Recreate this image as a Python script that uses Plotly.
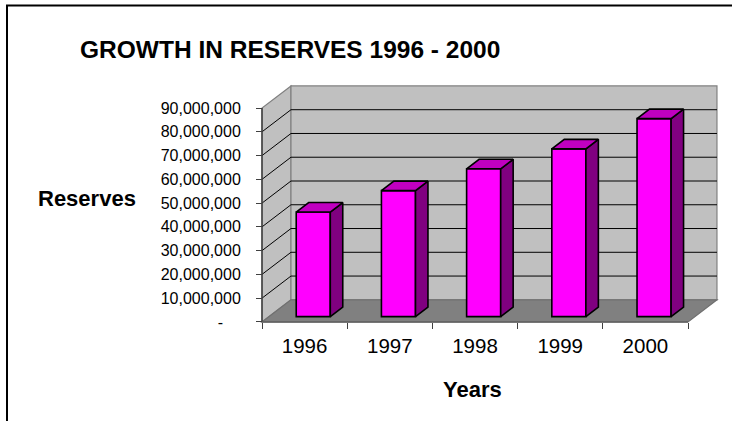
import plotly.graph_objects as go

# ---- data ----
years = ["1996", "1997", "1998", "1999", "2000"]
reserves = [44.0e6, 53.0e6, 62.2e6, 70.6e6, 83.3e6]
y_tick_values = [0, 10e6, 20e6, 30e6, 40e6, 50e6, 60e6, 70e6, 80e6, 90e6]
y_tick_labels = ["-\u00a0\u00a0\u00a0\u00a0", "10,000,000", "20,000,000", "30,000,000",
                 "40,000,000", "50,000,000", "60,000,000", "70,000,000",
                 "80,000,000", "90,000,000"]

# ---- page / plot-area geometry ----
W, H = 732, 421
M = dict(l=254, r=6, t=80, b=91)
PLOT_W = W - M["l"] - M["r"]
PLOT_H = H - M["t"] - M["b"]
X_RANGE = [-0.094, 5.446]
Y_RANGE = [-3.4e6, 101.8e6]

# oblique depth of the 3-D box (in axis units)
DEPTH_X = 0.34
DEPTH_Y = 9.3e6
WALL_TOP = 90e6

# column footprint inside a category slot
BAR_LEFT, BAR_WIDTH = 0.32, 0.40
BAR_FRONT, BAR_BACK = 0.24, 0.67   # depth fractions

FONT = "Liberation Sans, Arial, sans-serif"
n = len(years)


def px_x(px):
    return (px - M["l"]) / PLOT_W


def px_y(py):
    return (H - M["b"] - py) / PLOT_H


def path(points):
    return "M " + " L ".join(f"{x},{y}" for x, y in points) + " Z"


shapes = []
# side wall
shapes.append(dict(type="path", xref="x", yref="y", layer="below",
                   path=path([(0, 0), (DEPTH_X, DEPTH_Y), (DEPTH_X, WALL_TOP + DEPTH_Y), (0, WALL_TOP)]),
                   fillcolor="#C0C0C0", line=dict(color="#808080", width=1.2)))
# back wall
shapes.append(dict(type="path", xref="x", yref="y", layer="below",
                   path=path([(DEPTH_X, DEPTH_Y), (n + DEPTH_X, DEPTH_Y),
                              (n + DEPTH_X, WALL_TOP + DEPTH_Y), (DEPTH_X, WALL_TOP + DEPTH_Y)]),
                   fillcolor="#C0C0C0", line=dict(color="#808080", width=1.2)))
# gridlines on both walls
for v in y_tick_values[1:-1]:
    shapes.append(dict(type="line", xref="x", yref="y", layer="below",
                       x0=DEPTH_X, y0=v + DEPTH_Y, x1=n + DEPTH_X, y1=v + DEPTH_Y,
                       line=dict(color="black", width=1)))
    shapes.append(dict(type="line", xref="x", yref="y", layer="below",
                       x0=0, y0=v, x1=DEPTH_X, y1=v + DEPTH_Y,
                       line=dict(color="black", width=1)))
# floor
shapes.append(dict(type="path", xref="x", yref="y", layer="below",
                   path=path([(0, 0), (n, 0), (n + DEPTH_X, DEPTH_Y), (DEPTH_X, DEPTH_Y)]),
                   fillcolor="#808080", line=dict(color="#707070", width=1.2)))
# front value axis edge and category axis edge
shapes.append(dict(type="line", xref="x", yref="y", layer="below",
                   x0=0, y0=0, x1=0, y1=WALL_TOP, line=dict(color="#404040", width=1.5)))
shapes.append(dict(type="line", xref="x", yref="y", layer="below",
                   x0=0, y0=0, x1=n, y1=0, line=dict(color="#606060", width=1.5)))
# chart frame
shapes.append(dict(type="rect", xref="paper", yref="paper",
                   x0=px_x(7), y0=px_y(440), x1=px_x(760), y1=px_y(5.5),
                   line=dict(color="black", width=2), fillcolor="rgba(0,0,0,0)"))

fig = go.Figure()

# front faces of the columns
front_base = BAR_FRONT * DEPTH_Y
fig.add_trace(go.Bar(
    x=[i + BAR_LEFT + BAR_WIDTH / 2 + BAR_FRONT * DEPTH_X for i in range(n)],
    y=reserves,
    base=[front_base] * n,
    width=BAR_WIDTH,
    marker=dict(color="#FF00FF", line=dict(color="black", width=1.6)),
    hoverinfo="skip",
))

# side and top faces, projected from each value
side_x, side_y, top_x, top_y = [], [], [], []
for i, v in enumerate(reserves):
    xl_f = i + BAR_LEFT + BAR_FRONT * DEPTH_X
    xr_f = xl_f + BAR_WIDTH
    xl_b = i + BAR_LEFT + BAR_BACK * DEPTH_X
    xr_b = xl_b + BAR_WIDTH
    b_f = BAR_FRONT * DEPTH_Y
    b_b = BAR_BACK * DEPTH_Y
    side_x += [xr_f, xr_b, xr_b, xr_f, xr_f, None]
    side_y += [b_f, b_b, b_b + v, b_f + v, b_f, None]
    top_x += [xl_f, xr_f, xr_b, xl_b, xl_f, None]
    top_y += [b_f + v, b_f + v, b_b + v, b_b + v, b_f + v, None]

fig.add_trace(go.Scatter(x=side_x, y=side_y, mode="lines", fill="toself",
                         fillcolor="#800080", line=dict(color="black", width=1.6),
                         hoverinfo="skip"))
fig.add_trace(go.Scatter(x=top_x, y=top_y, mode="lines", fill="toself",
                         fillcolor="#C000C0", line=dict(color="black", width=1.6),
                         hoverinfo="skip"))

annotations = [
    dict(text="<b>GROWTH IN RESERVES 1996 - 2000</b>", x=px_x(290), y=px_y(50),
         font=dict(size=24.5, color="black", family=FONT)),
    dict(text="<b>Reserves</b>", x=px_x(86.5), y=px_y(198),
         font=dict(size=22, color="black", family=FONT)),
    dict(text="<b>Years</b>", x=px_x(472), y=px_y(389),
         font=dict(size=22, color="black", family=FONT)),
]
for a in annotations:
    a.update(xref="paper", yref="paper", xanchor="center", yanchor="middle", showarrow=False)

fig.update_layout(
    width=W, height=H, autosize=False, margin=dict(M, pad=0),
    paper_bgcolor="white", plot_bgcolor="white",
    showlegend=False, shapes=shapes, annotations=annotations,
    font=dict(family=FONT, color="black"),
    xaxis=dict(range=X_RANGE, anchor="free",
               position=(0 - Y_RANGE[0]) / (Y_RANGE[1] - Y_RANGE[0]),
               tickmode="array", tickvals=[i + 0.5 for i in range(n)], ticktext=years,
               ticks="", showgrid=False, zeroline=False, showline=False,
               tickfont=dict(size=20.5, family=FONT, color="black"),
               ticklabelstandoff=10,
               minor=dict(tickvals=list(range(n + 1)), ticks="outside", ticklen=6,
                          tickcolor="#404040", tickwidth=1, showgrid=False)),
    yaxis=dict(range=Y_RANGE, anchor="free",
               position=(0 - X_RANGE[0]) / (X_RANGE[1] - X_RANGE[0]),
               tickmode="array", tickvals=y_tick_values, ticktext=y_tick_labels,
               ticks="outside", ticklen=6, tickcolor="#404040", tickwidth=1,
               showgrid=False, zeroline=False, showline=False,
               tickfont=dict(size=16, family=FONT, color="black"),
               ticklabelstandoff=12),
)

fig.write_html("out.html")
